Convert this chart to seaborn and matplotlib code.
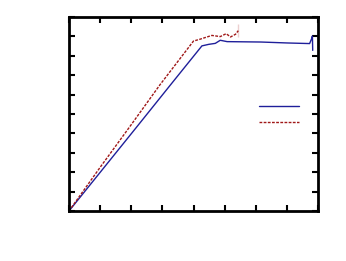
import matplotlib
matplotlib.use("Agg")
import matplotlib.pyplot as plt
import seaborn as sns
import pandas as pd
from matplotlib.lines import Line2D

# solid blue curve
blue_x = [0.0, 1.0, 2.16, 3.2, 4.27, 4.49, 4.70, 4.86, 5.08, 6.16, 7.03, 7.73, 7.80, 7.82, 7.83]
blue_y = [0.0, 1.99, 4.30, 6.38, 8.51, 8.59, 8.64, 8.80, 8.73, 8.71, 8.66, 8.63, 8.90, 9.02, 8.28]

# dashed red curve
red_x = [0.0, 1.0, 2.0, 2.92, 4.0, 4.2, 4.59, 4.86, 5.05, 5.19, 5.35, 5.44, 5.44]
red_y = [0.0, 2.25, 4.45, 6.50, 8.76, 8.85, 9.05, 8.99, 9.14, 8.97, 9.11, 8.97, 9.62]

blue_df = pd.DataFrame({"x": blue_x, "y": blue_y})
red_df = pd.DataFrame({"x": red_x, "y": red_y})

sns.set_style("ticks")

fig = plt.figure(figsize=(3.46, 2.61), dpi=100)
ax = fig.add_axes([0.1994, 0.1916, 0.7197, 0.7433])

blue = "#1f1f9a"
red = "#a01818"
dash = (0, (2.0, 1.0))
sns.lineplot(data=blue_df, x="x", y="y", sort=False, ax=ax, color=blue, linewidth=1.0)
sns.lineplot(data=red_df, x="x", y="y", sort=False, ax=ax, color=red, linewidth=1.0, linestyle=dash)

ax.set_xlim(0, 8)
ax.set_ylim(0, 10)
ax.set_xticks(range(0, 9))
ax.set_yticks(range(0, 11))
ax.set_xticklabels([])
ax.set_yticklabels([])
ax.set_xlabel("")
ax.set_ylabel("")
ax.tick_params(direction="in", length=4, width=1.5, top=True, right=True, color="black")
for s in ax.spines.values():
    s.set_linewidth(2)
    s.set_color("black")

handles = [Line2D([], [], color=blue, linewidth=1.0),
           Line2D([], [], color=red, linewidth=1.0, linestyle=dash)]
ax.legend(handles, ["", ""], loc="center right", bbox_to_anchor=(0.975, 0.495),
          frameon=False, handlelength=2.9, handletextpad=0.0, labelspacing=0.1)

fig.savefig("out.png", dpi=100)
